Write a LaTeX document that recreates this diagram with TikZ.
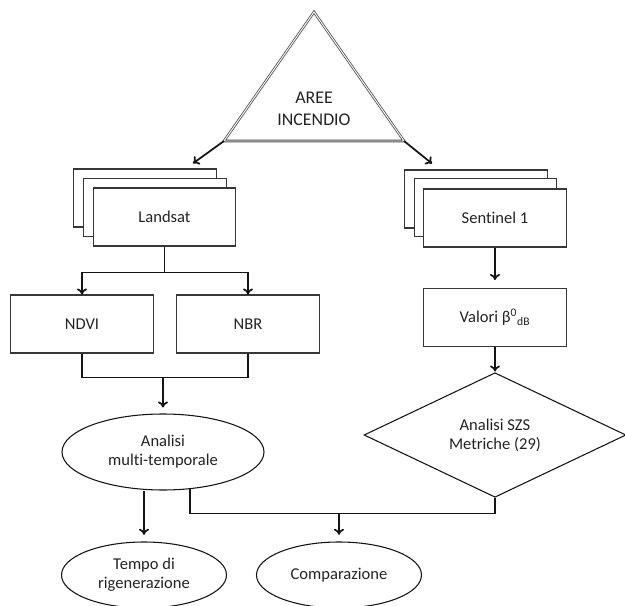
\documentclass[tikz,border=0pt]{standalone}
\usepackage{fontspec}
\setmainfont[Ligatures=NoCommon]{Carlito}
\usetikzlibrary{shapes.geometric, arrows.meta, positioning, calc}
\definecolor{mydark}{RGB}{20,20,20}
\definecolor{boxline}{RGB}{55,55,55}
\definecolor{txtgray}{RGB}{35,35,35}
\tikzset{
  block/.style={rectangle, draw=boxline, fill=white,
    minimum width=107pt, minimum height=43.5pt, inner sep=2pt,
    font=\fontsize{12.4}{14.25}\selectfont, text=txtgray, line width=0.8pt},
  oval/.style={ellipse, draw=mydark, fill=white, inner sep=0pt, align=center,
    font=\fontsize{12.4}{14.25}\selectfont, text=txtgray, line width=0.8pt},
  decision/.style={diamond, draw=mydark, fill=white, inner sep=0pt, align=center,
    minimum width=196.5pt, minimum height=90pt,
    font=\fontsize{12.4}{14.25}\selectfont, text=txtgray, line width=0.8pt},
  arrow/.style={-{To[length=4.5pt,width=7.5pt]}, line width=1.3pt, color=mydark},
  line/.style={draw, line width=1pt, color=mydark}
}

\begin{document}
\begin{tikzpicture}[x=0.75pt, y=-0.75pt]
  \useasboundingbox (0,0) rectangle (625,606);

  % Triangle
  \coordinate (apex) at (314,12);
  \coordinate (blc) at (224,141);
  \coordinate (brc) at (404,141);
  \draw[draw=black!70, double=white, double distance=0.7pt, line width=0.6pt] (apex) -- (blc) -- (brc) -- cycle;
  \node[font=\fontsize{13.4}{16.5}\selectfont, align=center, text=txtgray] (aree) at (314,109) {AREE\\INCENDIO};

  % Landsat stack
  \node[block] (lsback) at (145,198) {};
  \node[block] (lsmid) at (155,207.5) {};
  \node[block] (ls) at (164.5,217) {Landsat};

  % Sentinel stack
  \node[block] (snback) at (476,199) {};
  \node[block] (snmid) at (485.5,207.5) {};
  \node[block] (sn) at (495,218) {Sentinel 1};

  % Indices
  \node[block] (ndvi) at (82,324) {NDVI};
  \node[block] (nbr) at (248,324) {NBR};
  \node[block] (val) at (495,317.5) {Valori β\textsuperscript{0}\textsubscript{dB}};

  % Analysis
  \node[oval, minimum width=151.5pt, minimum height=57pt] (amt) at (163,452) {Analisi\\multi-temporale};
  \node[decision] (szs) at (495,435) {Analisi SZS\\Metriche (29)};

  % Results
  \node[oval, minimum width=123.75pt, minimum height=49.5pt] (tempo) at (144,575) {Tempo di\\rigenerazione};
  \node[oval, minimum width=123.75pt, minimum height=49.5pt] (comp) at (339,575) {Comparazione};

  % Triangle to stacks
  \draw[arrow, shorten >=6.5pt] (blc) -- (lsback);
  \draw[arrow, shorten >=7pt] (brc) -- (snback);

  % Landsat branch
  \draw[line] (ls.south) -- ++(0,26) coordinate (lsj);
  \draw[arrow] (lsj) -| (ndvi.north);
  \draw[arrow] (lsj) -| (nbr.north);

  % Merge of indices
  \draw[line] (ndvi.south) -- ++(0,24) coordinate (ndj) -| (nbr.south);
  \draw[arrow, shorten >=4.5pt] (amt.north |- ndj) -- (amt.north);

  % Sentinel chain
  \draw[arrow, shorten >=6pt] (sn.south) -- (val.north);
  \draw[arrow, shorten >=0.5pt] (val.south) -- (szs.north);

  % To results
  \draw[arrow, shorten >=5pt] (amt.south -| tempo.north) -- (tempo.north);
  \coordinate (amtr) at ($(amt.south)+(27,-1.4)$);
  \draw[line] (amtr) -- ++(0,24.4) coordinate (cmpl) -| (szs.south);
  \draw[arrow, shorten >=5pt] (cmpl -| comp.north) -- (comp.north);
\end{tikzpicture}
\end{document}
